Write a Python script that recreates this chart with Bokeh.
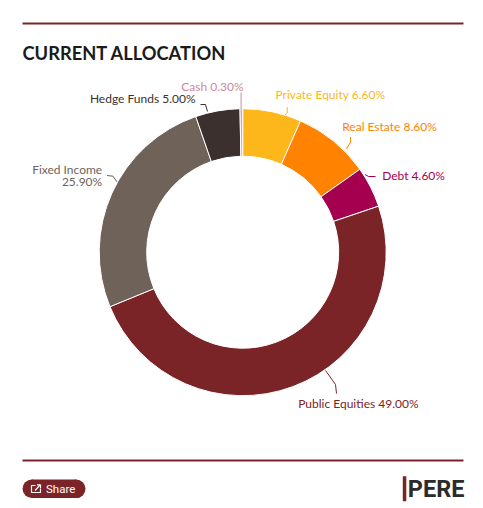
import numpy as np
from bokeh.plotting import figure
from bokeh.models import Range1d
from bokeh.core.properties import value
from bokeh.embed import file_html
from bokeh.resources import INLINE

# allocation data (clockwise from 12 o'clock)
categories = ["Private Equity", "Real Estate", "Debt", "Public Equities",
              "Fixed Income", "Hedge Funds", "Cash"]
shares = [6.6, 8.6, 4.6, 49.0, 25.9, 5.0, 0.3]
slice_colors = ["#FDB71A", "#FF8300", "#A5004F", "#7B2428",
                "#6E6259", "#3B302D", "#D9A3B1"]
label_colors = ["#FDB71A", "#FF8300", "#A5004F", "#7B2428",
                "#6E6259", "#3B302D", "#C98A9C"]

# label layout, in page pixels (x, y centre, align)
label_pos = {
    "Private Equity": (275, 94.3, "left"),
    "Real Estate": (341.7, 125.7, "left"),
    "Debt": (381.7, 175, "left"),
    "Public Equities": (297.7, 403.3, "left"),
    "Fixed Income": (101.7, 169, "right"),
    "Hedge Funds": (195, 97.7, "right"),
    "Cash": (243, 86, "right"),
}
# leader lines (page pixels)
leaders = {
    "Private Equity": [(286.7, 106.5), (286.7, 112.5), (284.5, 114.5)],
    "Real Estate": [(350, 136.5), (350, 141.5), (346, 148.5)],
    "Debt": [(375, 176), (368, 176), (364.5, 174)],
    "Public Equities": [(336, 393), (335, 384), (325, 370)],
    "Fixed Income": [(106.5, 175), (112.5, 175.7), (116.7, 181.7)],
    "Hedge Funds": [(200, 104), (205, 104), (207, 111)],
    "Cash": [(240.6, 92), (240.6, 108.5)],
}

W, H = 483, 508


def Y(v):
    return H - v


p = figure(width=W, height=H, output_backend="svg", toolbar_location=None,
           x_range=Range1d(0, W), y_range=Range1d(0, H), min_border=0)
p.axis.visible = False
p.grid.visible = False
p.outline_line_color = None
p.background_fill_color = "white"
p.border_fill_color = "white"

font = value("Lato")
dark_red = "#7B2428"

# rules top and bottom
p.segment(x0=[22, 22], y0=[Y(23), Y(460)], x1=[463, 463], y1=[Y(23), Y(460)],
          line_color=dark_red, line_width=2.2)

p.text(x=[22], y=[Y(52.7)], text=["CURRENT ALLOCATION"], text_font=font,
       text_font_style="bold", text_font_size="18.3px", text_color="#1B1B1B",
       text_baseline="middle")

# donut
frac = np.array(shares) / np.sum(shares)
cum = np.cumsum(frac)
start = np.pi / 2 - 2 * np.pi * (cum - frac)
end = np.pi / 2 - 2 * np.pi * cum
cx, cy = 242.2, Y(251.7)
p.annular_wedge(x=cx, y=cy, inner_radius=96, outer_radius=143.5,
                start_angle=start, end_angle=end, direction="clock",
                fill_color=slice_colors, line_color="white", line_width=1)

# labels + leaders
for cat, val, col in zip(categories, shares, label_colors):
    lx, ly, al = label_pos[cat]
    pts = leaders[cat]
    p.line([q[0] for q in pts], [Y(q[1]) for q in pts], line_color=col, line_width=1)
    if cat == "Fixed Income":
        lines = [cat, f"{val:.2f}%"]
    else:
        lines = [f"{cat} {val:.2f}%"]
    for i, t in enumerate(lines):
        p.text(x=[lx], y=[Y(ly + 12 * i)], text=[t], text_font=font,
               text_font_size="12px", text_color=col, text_align=al,
               text_baseline="middle")

# share button
p.quad(left=[31.3], right=[75.7], bottom=[Y(497.6)], top=[Y(479)],
       fill_color=dark_red, line_color=None)
p.circle(x=[31.3, 75.7], y=[Y(488.3), Y(488.3)], radius=9.3,
         fill_color=dark_red, line_color=None)
# share icon
p.line([35, 31, 31, 40, 40], [Y(485), Y(485), Y(492), Y(492), Y(488)],
       line_color="white", line_width=1.2)
p.line([34.5, 39.5], [Y(490), Y(484.5)], line_color="white", line_width=1.2)
p.line([36.5, 40, 40], [Y(484.3), Y(484.3), Y(487.5)], line_color="white", line_width=1.2)
p.text(x=[45.5], y=[Y(488.5)], text=["Share"], text_font=value("Roboto"),
       text_font_size="11.5px", text_color="white", text_baseline="middle")

# PERE logo
p.quad(left=[402.3], right=[405.8], bottom=[Y(500.7)], top=[Y(475.7)],
       fill_color=dark_red, line_color=None)
p.text(x=[407.3], y=[Y(488.2)], text=["PERE"], text_font=value("Roboto"),
       text_font_style="bold", text_font_size="23.5px", text_color="#2B2B2B",
       text_baseline="middle")

open("out.html", "w").write(file_html(p, INLINE))
